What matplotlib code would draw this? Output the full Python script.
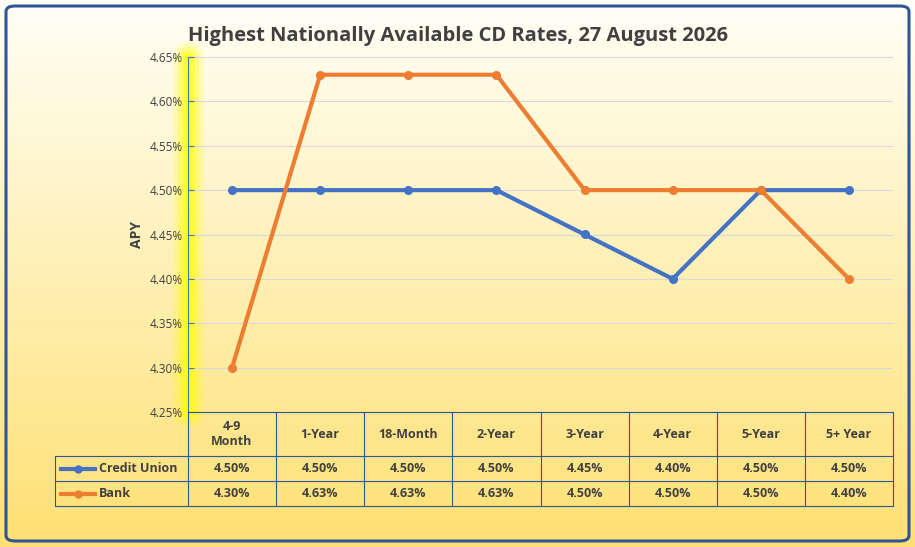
import matplotlib
matplotlib.use("Agg")
import matplotlib.pyplot as plt
import numpy as np
from matplotlib.patches import FancyBboxPatch
from matplotlib.lines import Line2D
import matplotlib.transforms as mtrans

categories = ["4-9\nMonth", "1-Year", "18-Month", "2-Year", "3-Year", "4-Year", "5-Year", "5+ Year"]
credit_union = [4.50, 4.50, 4.50, 4.50, 4.45, 4.40, 4.50, 4.50]
bank = [4.30, 4.63, 4.63, 4.63, 4.50, 4.50, 4.50, 4.40]
series_names = ["Credit Union", "Bank"]
colors = ["#4472C4", "#ED7D31"]

plt.rcParams['font.family'] = ['Open Sans', 'DejaVu Sans']
W, H = 915, 547
fig = plt.figure(figsize=(W/100, H/100), dpi=100)

bg = fig.add_axes([0, 0, 1, 1], zorder=-10)
bg.axis('off')
top = np.array([1.0, 1.0, 0.97])
bot = np.array([1.0, 0.88, 0.45])
t = np.linspace(0, 1, 256)[:, None]
grad = top[None, :] * (1 - t) + bot[None, :] * t
bg.imshow(grad[:, None, :].repeat(2, axis=1), aspect='auto', extent=[0, 1, 0, 1])
bg.set_xlim(0, 1); bg.set_ylim(0, 1)
bg.add_patch(FancyBboxPatch((6/W, 6/H), 1 - 12/W, 1 - 12/H, boxstyle="round,pad=0,rounding_size=0.01",
                            fill=False, ec="#2F5597", lw=2.2, transform=bg.transAxes))

L, R, T, B = 188, 893, 57, 412
ax = fig.add_axes([L/W, 1 - B/H, (R-L)/W, (B-T)/H])
ax.patch.set_alpha(0)
x = np.arange(len(categories))
for vals, c in zip([credit_union, bank], colors):
    ax.plot(x, vals, color=c, lw=3, marker='o', ms=5.5, zorder=3)
ax.set_xlim(-0.5, len(categories) - 0.5)
ax.set_ylim(4.25, 4.65)
yt = np.arange(4.25, 4.651, 0.05)
ax.set_yticks(yt)
ax.set_yticklabels([f"{v:.2f}%" for v in yt], fontsize=8.5, color="#404040")
ax.set_xticks([])
ax.grid(axis='y', color="#D9D9D9", lw=0.8)
for s in ['top', 'right', 'bottom']:
    ax.spines[s].set_visible(False)
ax.spines['left'].set_color("#4472C4")
ax.tick_params(axis='y', length=4, color="#4472C4", direction='in')
ax.set_axisbelow(True)
for lw, a in [(22, 0.2), (15, 0.3), (9, 0.45), (4, 0.6)]:
    ax.plot([-0.5, -0.5], [4.25, 4.65], color="#FFFF00", lw=lw, alpha=a, zorder=0,
            clip_on=False, solid_capstyle='round')
ax.set_ylabel("APY", fontsize=10, fontweight='bold', color="#404040", labelpad=4)

fig.text(0.5, 1 - 36/H, "Highest Nationally Available CD Rates, 27 August 2026",
         ha='center', va='center', fontsize=14.5, fontweight='bold', color="#404040")

tr = mtrans.blended_transform_factory(ax.transData, fig.transFigure)
def fy(py): return 1 - py/H
tc = "#2F5597"
rows_y = [412, 456, 481, 506]
xl = -0.5 - (L - 55) / ((R - L) / len(categories))
xr = len(categories) - 0.5
fig.add_artist(Line2D([-0.5, xr], [fy(412)]*2, transform=tr, color=tc, lw=0.8))
for py in rows_y[1:]:
    fig.add_artist(Line2D([xl, xr], [fy(py)]*2, transform=tr, color=tc, lw=0.8))
for xv in np.arange(-0.5, xr + 0.01, 1):
    fig.add_artist(Line2D([xv, xv], [fy(412), fy(506)], transform=tr, color=tc, lw=0.8))
fig.add_artist(Line2D([xl, xl], [fy(456), fy(506)], transform=tr, color=tc, lw=0.8))
for i, c in enumerate(categories):
    fig.text(i, fy(434), c, transform=tr, ha='center', va='center', fontsize=9,
             fontweight='bold', color="#404040")
for r, (name, vals, c) in enumerate(zip(series_names, [credit_union, bank], colors)):
    yc = fy((rows_y[r+1] + rows_y[r+2]) / 2)
    fig.add_artist(Line2D([xl + 0.07, xl + 0.45], [yc, yc], transform=tr, color=c, lw=3))
    fig.add_artist(Line2D([xl + 0.26], [yc], transform=tr, color=c, marker='o', ms=5))
    fig.text(xl + 0.5, yc, name, transform=tr, ha='left', va='center', fontsize=9,
             fontweight='bold', color="#404040")
    for i, v in enumerate(vals):
        fig.text(i, yc, f"{v:.2f}%", transform=tr, ha='center', va='center', fontsize=9,
                 fontweight='bold', color="#404040")

fig.savefig("out.png", dpi=100)
